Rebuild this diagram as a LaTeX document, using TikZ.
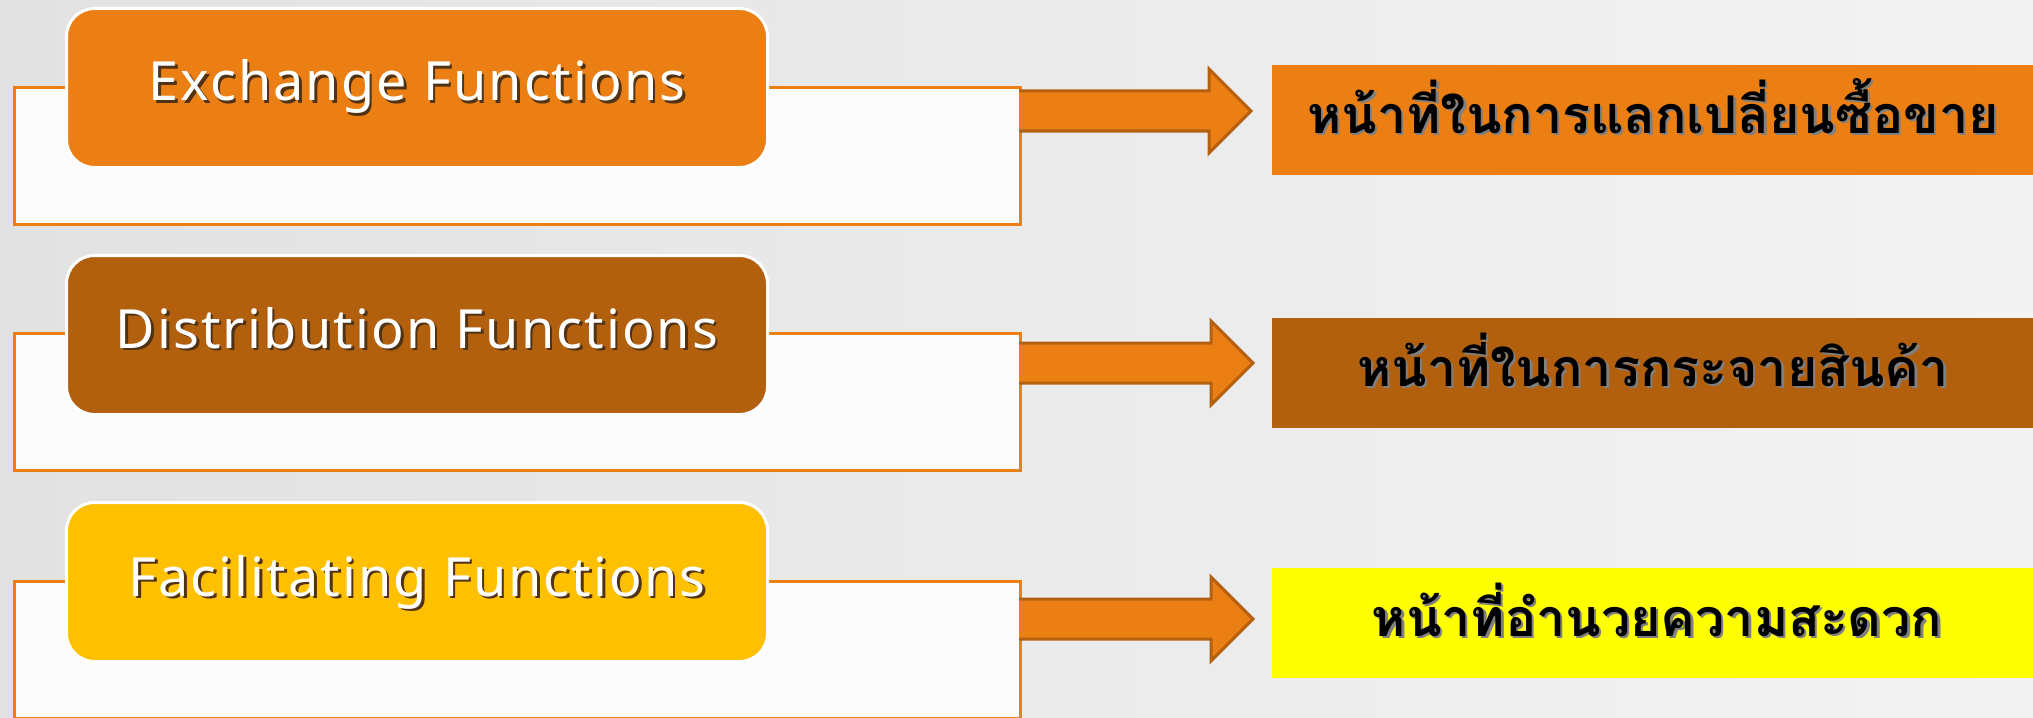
\documentclass[tikz,border=0pt]{standalone}
\usepackage{fontspec}
\setmainfont{Noto Sans}
\newfontfamily\labelfont[LetterSpace=3.8]{Noto Sans}
\newfontfamily\thaifont[Script=Thai]{Loma}
\usetikzlibrary{calc}

\definecolor{bgA}{RGB}{226,226,226}
\definecolor{bgB}{RGB}{243,243,243}
\definecolor{orangeF}{RGB}{236,127,19}
\definecolor{brownF}{RGB}{178,96,14}
\definecolor{goldF}{RGB}{255,192,0}
\definecolor{lemonF}{RGB}{255,255,0}
\definecolor{panelF}{RGB}{252,252,252}
\definecolor{arrowE}{RGB}{181,96,15}
\definecolor{shadeDark}{RGB}{80,50,20}
\definecolor{shadeGray}{RGB}{128,128,128}

% text with a small drop shadow: colour, offset, text
\newcommand\dropshadowed[3]{%
  \makebox[0pt][l]{\hspace*{#2}\raisebox{-#2}{\color{#1}#3}}#3}

% block arrow from a start coordinate to a tip coordinate
\newcommand\blockarrow[2]{%
  \fill[orangeF] ($(#1)+(0,-20)$) -- ($(#2)+(-42,-20)$) -- ($(#2)+(-42,-42)$) -- (#2)
     -- ($(#2)+(-42,42)$) -- ($(#2)+(-42,20)$) -- ($(#1)+(0,20)$) -- cycle;
  \draw[barrow] ($(#1)+(0,-20)$) -- ($(#2)+(-42,-20)$) -- ($(#2)+(-42,-42)$) -- (#2)
     -- ($(#2)+(-42,42)$) -- ($(#2)+(-42,20)$) -- ($(#1)+(0,20)$);}

\begin{document}
\begin{tikzpicture}[x=0.5pt, y=-0.5pt,
  panel/.style={draw=orangeF, line width=1.5pt, fill=panelF, anchor=north west,
    minimum width=503pt, minimum height=68.5pt, inner sep=0pt},
  tab/.style={draw=white, line width=1.5pt, rounded corners=14pt, anchor=north west,
    minimum width=350.5pt, minimum height=79.5pt, inner sep=0pt},
  result/.style={anchor=north west, minimum width=384pt, minimum height=55pt, inner sep=0pt},
  label/.style={anchor=base, text=white, inner sep=0pt,
    font=\labelfont\fontsize{27}{32}\selectfont},
  thai/.style={anchor=base, text=black, inner sep=0pt,
    font=\thaifont\bfseries\fontsize{26}{32}\selectfont},
  barrow/.style={draw=arrowE, line width=1.5pt, line join=miter}]

\useasboundingbox (0,0) rectangle (2033,717);
\shade[left color=bgA, right color=bgB] (0,0) rectangle (2033,717);

% row 1
\node[panel] (w1) at (13,86) {};
\node[tab, fill=orangeF] (t1) at (65,7) {};
\node[label] at ($(t1.center)+(0,13)$) {\dropshadowed{shadeDark}{1.3pt}{Exchange Functions}};
\node[result, fill=orangeF] (r1) at (1272,65) {};
\node[thai] at ($(r1.west)+(381,13)$) {\dropshadowed{shadeGray}{1.2pt}{หน้าที่ในการแลกเปลี่ยนซื้อขาย}};
\coordinate (s1) at (1019,111);
\coordinate (e1) at (1251,111);
\blockarrow{s1}{e1}

% row 2
\node[panel] (w2) at (13,332) {};
\node[tab, fill=brownF] (t2) at (65,254) {};
\node[label] at ($(t2.center)+(0,13)$) {\dropshadowed{shadeDark}{1.3pt}{Distribution Functions}};
\node[result, fill=brownF] (r2) at (1272,318) {};
\node[thai] at ($(r2.west)+(381,13)$) {\dropshadowed{shadeGray}{1.2pt}{หน้าที่ในการกระจายสินค้า}};
\coordinate (s2) at (1019,363);
\coordinate (e2) at (1253,363);
\blockarrow{s2}{e2}

% row 3
\node[panel] (w3) at (13,580) {};
\node[tab, fill=goldF] (t3) at (65,501) {};
\node[label] at ($(t3.center)+(0,14)$) {\dropshadowed{shadeDark}{1.3pt}{Facilitating Functions}};
\node[result, fill=lemonF] (r3) at (1272,568) {};
\node[thai] at ($(r3.west)+(385,13)$) {\dropshadowed{shadeGray}{1.2pt}{หน้าที่อำนวยความสะดวก}};
\coordinate (s3) at (1019,619);
\coordinate (e3) at (1253,619);
\blockarrow{s3}{e3}

\end{tikzpicture}
\end{document}
